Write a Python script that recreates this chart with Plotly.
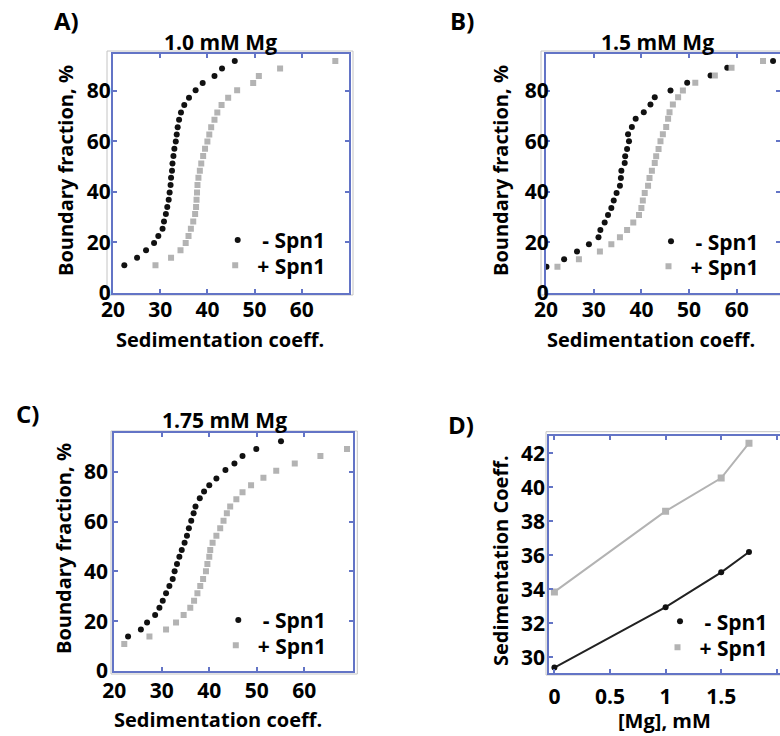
import plotly.graph_objects as go

W, H = 780, 736

# ---------------- data ----------------
a_y = [10.9, 13.9, 16.8, 19.7, 22.5, 25.4, 28.3, 31.2, 34.0, 36.9, 39.8, 42.7, 45.6, 48.4, 51.3,
       54.2, 57.1, 60.0, 62.8, 65.7, 68.6, 71.5, 74.5, 77.4, 80.3, 83.2, 86.0, 89.0, 91.9]
a_minus_x = [22.4, 25.1, 27.0, 28.7, 29.6, 30.5, 30.8, 31.2, 31.5, 31.8, 32.0, 32.2, 32.3, 32.5, 32.6,
             32.8, 33.0, 33.3, 33.5, 33.7, 34.0, 34.4, 35.1, 36.1, 37.5, 39.0, 41.5, 43.1, 45.8]
a_plus_x = [29.0, 32.3, 34.3, 35.4, 36.0, 36.5, 37.0, 37.4, 37.6, 37.7, 37.8, 37.9, 38.1, 38.4, 38.7,
            39.1, 39.5, 40.0, 40.4, 40.8, 41.5, 42.1, 43.0, 44.4, 46.3, 49.7, 50.9, 55.4, 67.1]

b_y = [10.3, 13.3, 16.3, 19.2, 22.0, 24.9, 27.9, 30.8, 33.6, 36.6, 39.6, 42.4, 45.5, 48.4, 51.5,
       54.1, 57.0, 60.1, 62.9, 65.8, 69.0, 71.6, 74.7, 77.6, 80.2, 83.3, 86.2, 89.3, 91.9]
b_minus_x = [20.1, 23.8, 26.5, 29.0, 31.0, 31.4, 32.3, 33.0, 33.7, 34.2, 34.8, 35.5, 35.7, 35.8, 36.5,
             36.6, 37.0, 37.4, 37.2, 38.0, 38.8, 40.5, 41.9, 42.8, 46.1, 49.6, 54.5, 58.0, 67.6]
b_plus_x = [22.4, 26.9, 31.3, 33.7, 35.5, 37.0, 38.3, 39.5, 40.0, 40.3, 40.7, 41.4, 41.7, 42.2, 42.8,
            43.1, 43.6, 44.0, 44.5, 45.2, 45.6, 45.9, 46.6, 47.7, 48.7, 51.3, 55.4, 58.9, 65.5]

c_minus_y = [13.8, 16.7, 19.5, 22.5, 25.4, 28.2, 31.2, 34.1, 36.9, 40.0, 42.9, 45.9, 48.6, 51.5,
             54.3, 57.3, 60.3, 63.3, 66.0, 69.3, 72.0, 74.6, 77.3, 80.7, 83.3, 86.3, 89.1, 92.2]
c_minus_x = [22.9, 25.6, 26.9, 28.6, 29.5, 30.2, 30.9, 31.6, 32.3, 32.7, 33.2, 33.7, 34.2, 34.8,
             35.3, 35.7, 36.2, 36.7, 37.1, 38.0, 38.9, 40.0, 41.5, 43.4, 45.3, 47.0, 49.9, 55.1]
c_plus_y = [10.8, 13.8, 16.7, 19.5, 22.5, 25.4, 28.2, 31.2, 34.1, 36.9, 40.0, 42.9, 45.9, 48.6,
            51.5, 54.3, 57.3, 60.3, 63.3, 66.0, 68.9, 71.7, 74.6, 77.6, 80.4, 83.3, 86.3, 89.1]
c_plus_x = [22.1, 27.4, 30.9, 33.0, 34.6, 36.0, 36.8, 37.5, 38.1, 38.7, 39.3, 39.6, 40.0, 40.2,
            40.7, 41.5, 42.3, 43.0, 43.7, 44.4, 45.7, 47.0, 48.8, 51.4, 54.1, 58.0, 63.4, 69.0]

mg_mM = [0, 1, 1.5, 1.75]
d_minus = [29.4, 32.95, 35.0, 36.2]
d_plus = [33.85, 38.6, 40.55, 42.6]

series_names = ["- Spn1", "+ Spn1"]
panel_titles = ["1.0 mM Mg", "1.5 mM Mg", "1.75 mM Mg"]
panel_letters = ["A)", "B)", "C)", "D)"]
bf_ticks = [0, 20, 40, 60, 80]
sc_ticks = [20, 30, 40, 50, 60]
d_xticks = [0, 0.5, 1, 1.5, 2]
d_xticklabels = ["0", "0.5", "1", "1.5", "2"]
d_yticks = [30, 32, 34, 36, 38, 40, 42]

# ---------------- style ----------------
FONT = "Open Sans"
BLUE = "#6374c6"
GRAYFRAME = "#c4c4c4"
BLACK = "#111111"
GREY = "#b3b3b3"
TICKF = dict(family=FONT, size=21, color="black", weight="bold")


def px(x):
    return x / W


def py(y):
    return 1 - y / H


fig = go.Figure()

panels = [
    ("x", "y", a_minus_x, a_y, a_plus_x, a_y, "legend", "legend2"),
    ("x2", "y2", b_minus_x, b_y, b_plus_x, b_y, "legend3", "legend4"),
    ("x3", "y3", c_minus_x, c_minus_y, c_plus_x, c_plus_y, "legend5", "legend6"),
]
for xr, yr, mx, my, plx, ply, lg1, lg2 in panels:
    fig.add_trace(go.Scatter(x=mx, y=my, mode="markers", name=series_names[0], xaxis=xr, yaxis=yr,
                             legend=lg1, marker=dict(color=BLACK, size=6, symbol="circle")))
    fig.add_trace(go.Scatter(x=plx, y=ply, mode="markers", name=series_names[1], xaxis=xr, yaxis=yr,
                             legend=lg2, marker=dict(color=GREY, size=6, symbol="square")))

# panel D
fig.add_trace(go.Scatter(x=mg_mM, y=d_plus, mode="lines+markers", xaxis="x4", yaxis="y4", showlegend=False,
                         line=dict(color=GREY, width=2), marker=dict(color=GREY, size=7, symbol="square")))
fig.add_trace(go.Scatter(x=mg_mM, y=d_minus, mode="lines+markers", xaxis="x4", yaxis="y4", showlegend=False,
                         line=dict(color="#222222", width=2), marker=dict(color=BLACK, size=6)))
fig.add_trace(go.Scatter(x=[None], y=[None], mode="markers", name=series_names[0], xaxis="x4", yaxis="y4",
                         legend="legend7", marker=dict(color=BLACK, size=6)))
fig.add_trace(go.Scatter(x=[None], y=[None], mode="markers", name=series_names[1], xaxis="x4", yaxis="y4",
                         legend="legend8", marker=dict(color=GREY, size=6, symbol="square")))
# invisible carrier for B's right-side ticks
fig.add_trace(go.Scatter(x=[None], y=[None], mode="markers", xaxis="x2", yaxis="y5", showlegend=False))


def xax(domain, rng, anchor, tickvals, ticktext=None, mirror="ticks", standoff=0):
    d = dict(domain=domain, range=rng, anchor=anchor, tickvals=tickvals, showgrid=False, zeroline=False,
             showline=True, linecolor=BLUE, linewidth=2, mirror=mirror, ticks="inside", ticklen=4,
             tickwidth=2, tickcolor=BLUE, tickfont=TICKF, automargin=False, ticklabelstandoff=standoff)
    if ticktext is not None:
        d["ticktext"] = ticktext
    return d


layout = dict(
    width=W, height=H, margin=dict(l=0, r=0, t=0, b=0, autoexpand=False),
    paper_bgcolor="white", plot_bgcolor="white",
    font=dict(family=FONT, color="black"),
    xaxis=xax([px(113), px(349)], [20, 70], "y", sc_ticks, standoff=-3),
    yaxis=xax([py(292.7), py(54.3)], [0, 94.6], "x", bf_ticks, standoff=-4),
    xaxis2=xax([px(546), 1.0], [20, 69.06], "y2", sc_ticks, standoff=-3),
    yaxis2=xax([py(292.7), py(54.3)], [0, 94.6], "x2", bf_ticks, mirror=False, standoff=-9),
    yaxis5=dict(overlaying="y2", side="right", anchor="x2", range=[0, 94.6], tickvals=bf_ticks[1:],
                showticklabels=False, ticks="inside", ticklen=4, tickwidth=2, tickcolor=BLUE,
                showgrid=False, zeroline=False, showline=False, automargin=False),
    xaxis3=xax([px(114.3), px(352.7)], [20, 70.2], "y3", sc_ticks),
    yaxis3=xax([py(671), py(433.3)], [0, 95.4], "x3", bf_ticks),
    xaxis4=xax([px(549.3), 1.0], [-0.046, 2.029], "y4", d_xticks, d_xticklabels, standoff=3),
    yaxis4=xax([py(673.3), py(435.7)], [29.06, 43.04], "x4", d_yticks, mirror=False, standoff=-2),
)

LEGF = dict(family=FONT, size=21, color="black", weight="bold")
legend_spots = [("legend", 237.7, 240.7, 39), ("legend2", 237.7, 266, 34),
                ("legend3", 671, 242, 39), ("legend4", 671, 267, 34),
                ("legend5", 238.3, 620.7, 39), ("legend6", 238.3, 646, 34),
                ("legend7", 680, 622, 39), ("legend8", 680, 648, 34)]
for name, mx_, my_, iw in legend_spots:
    layout[name] = dict(x=px(mx_ - 24.5), y=py(my_ - 20.8), xanchor="left", yanchor="top",
                        bgcolor="rgba(0,0,0,0)", font=LEGF, itemwidth=iw, tracegroupgap=0)

fig.update_layout(**layout)

# outer light-gray frames
shapes = []
for x0, y0, x1, y1 in [(107, 51, 353, 295), (541, 51, 790, 295), (111, 431, 357.3, 674), (546, 431.7, 790, 675)]:
    shapes.append(dict(type="rect", xref="paper", yref="paper", x0=px(x0), x1=px(x1), y0=py(y0), y1=py(y1),
                       line=dict(color=GRAYFRAME, width=1), layer="below"))
fig.update_layout(shapes=shapes)

ann = []


def text(x, y, s, size=20, angle=0):
    ann.append(dict(x=px(x), y=py(y), xref="paper", yref="paper", text=s, showarrow=False,
                    xanchor="center", yanchor="middle", textangle=angle,
                    font=dict(family=FONT, size=size, color="black", weight="bold")))


for (x, y), s in zip([(66, 20), (462, 20), (27, 413), (461, 424)], panel_letters):
    text(x, y, s, size=24)
for (x, y), s in zip([(220, 42), (657.5, 42), (224.5, 420)], panel_titles):
    text(x, y, s, size=21)
for x, y in [(220, 340), (651, 340), (217.5, 719)]:
    text(x, y, "Sedimentation coeff.", size=20)
text(664, 720, "[Mg], mM", size=20)
for x, y in [(65, 171), (500, 171), (63, 549)]:
    text(x, y, "Boundary fraction, %", size=20, angle=-90)
text(500, 561, "Sedimentation Coeff.", size=20, angle=-90)
fig.update_layout(annotations=ann)

fig.write_html("out.html", config={"displayModeBar": False},
               post_script="document.body.style.margin='0';document.body.style.overflow='hidden';")
